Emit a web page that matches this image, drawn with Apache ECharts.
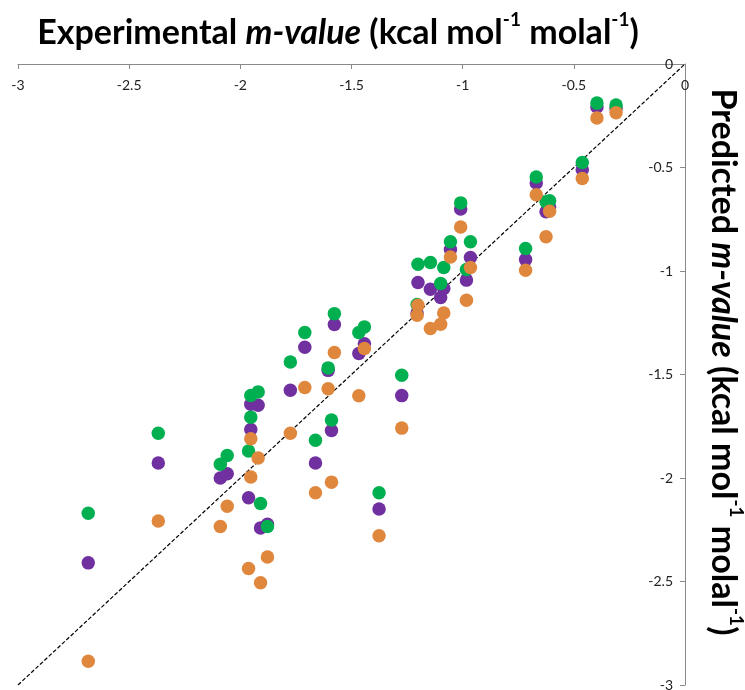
<!DOCTYPE html>
<html>
<head>
<meta charset="utf-8">
<script src="https://cdn.jsdelivr.net/npm/echarts@6/dist/echarts.min.js"></script>
<style>
html,body{margin:0;padding:0;background:#fff;}
#chart{width:745px;height:690px;}
</style>
</head>
<body>
<div id="chart"></div>
<script>
// Experimental m-values (x)
var experimental = [-2.684,-2.369,-2.090,-2.059,-1.963,-1.953,-1.953,-1.920,-1.909,-1.878,
  -1.775,-1.710,-1.662,-1.605,-1.590,-1.577,-1.467,-1.442,-1.376,-1.274,
  -1.205,-1.201,-1.145,-1.099,-1.085,-1.055,-1.009,-0.983,-0.965,-0.717,
  -0.669,-0.625,-0.609,-0.462,-0.396,-0.310];
// Predicted m-values, three models
var predictedPurple = [-2.410,-1.928,-2.000,-1.979,-2.095,-1.644,-1.766,-1.649,-2.241,-2.224,
  -1.576,-1.368,-1.928,-1.480,-1.771,-1.258,-1.399,-1.352,-2.150,-1.602,
  -1.203,-1.056,-1.088,-1.128,-1.085,-0.896,-0.700,-1.044,-0.935,-0.945,
  -0.575,-0.714,-0.691,-0.511,-0.208,-0.213];
var predictedGreen = [-2.170,-1.784,-1.934,-1.891,-1.870,-1.601,-1.706,-1.584,-2.123,-2.234,
  -1.440,-1.297,-1.818,-1.468,-1.720,-1.206,-1.297,-1.270,-2.071,-1.504,
  -1.162,-0.967,-0.959,-1.060,-0.983,-0.859,-0.671,-0.993,-0.859,-0.891,
  -0.546,-0.666,-0.661,-0.476,-0.189,-0.198];
var predictedOrange = [-2.885,-2.208,-2.234,-2.136,-2.437,-1.810,-1.995,-1.903,-2.506,-2.382,
  -1.784,-1.563,-2.071,-1.569,-2.020,-1.394,-1.603,-1.374,-2.279,-1.759,
  -1.214,-1.165,-1.278,-1.257,-1.203,-0.932,-0.787,-1.141,-0.983,-0.996,
  -0.632,-0.835,-0.711,-0.553,-0.261,-0.235];
var xTicks = [-3,-2.5,-2,-1.5,-1,-0.5,0];
var yTicks = [-3,-2.5,-2,-1.5,-1,-0.5,0];
var identityLine = [[-3,-3],[0,0]];

function pairs(ys){ return experimental.map(function(x,i){ return [x, ys[i]]; }); }

var chart = echarts.init(document.getElementById('chart'), null, {renderer:'canvas'});
var fam = 'Lato, "Open Sans", sans-serif';
var rich = {
  b:{fontFamily:fam,fontWeight:'bold',fontSize:34,color:'#000',lineHeight:40,verticalAlign:'bottom'},
  i:{fontFamily:fam,fontWeight:'bold',fontStyle:'italic',fontSize:34,color:'#000',lineHeight:40,verticalAlign:'bottom'},
  s:{fontFamily:fam,fontWeight:'bold',fontSize:19,color:'#000',lineHeight:40,verticalAlign:'top'}
};
var titleText = '{b|Experimental }{i|m-value}{b| (kcal mol}{s|-1}{b| molal}{s|-1}{b|)}';
var yTitleText = '{b|Predicted }{i|m-value}{b| (kcal mol}{s|-1}{b| molal}{s|-1}{b|)}';

chart.setOption({
  animation:false,
  backgroundColor:'#fff',
  grid:{left:18,right:60,top:64,bottom:5,containLabel:false,outerBoundsMode:'none'},
  xAxis:{
    type:'value',position:'top',min:xTicks[0],max:xTicks[xTicks.length-1],interval:0.5,
    axisLine:{show:true,onZero:false,lineStyle:{color:'#898989',width:1}},
    axisTick:{show:true,inside:true,length:5,lineStyle:{color:'#898989'}},
    axisLabel:{inside:true,margin:14,fontFamily:fam,fontSize:14,color:'#222'},
    splitLine:{show:false}
  },
  yAxis:{
    type:'value',position:'right',min:yTicks[0],max:yTicks[yTicks.length-1],interval:0.5,
    axisLine:{show:true,onZero:false,lineStyle:{color:'#898989',width:1}},
    axisTick:{show:true,inside:true,length:5,lineStyle:{color:'#898989'}},
    axisLabel:{inside:true,margin:12,fontFamily:fam,fontSize:14,color:'#222'},
    splitLine:{show:false}
  },
  graphic:[
    {type:'text',x:338,y:30,style:{text:titleText,rich:rich,align:'center',verticalAlign:'middle'}},
    {type:'text',x:726,y:362,rotation:-Math.PI/2,
     style:{text:yTitleText,rich:rich,align:'center',verticalAlign:'middle'}}
  ],
  series:[
    {type:'line',data:identityLine,symbol:'none',silent:true,z:1,
     lineStyle:{color:'#000',width:1.2,type:[4,2]}},
    {type:'scatter',data:pairs(predictedPurple),symbolSize:13.5,z:2,
     itemStyle:{color:'#7030A0',opacity:1}},
    {type:'scatter',data:pairs(predictedGreen),symbolSize:13.5,z:3,
     itemStyle:{color:'#00B050',opacity:1}},
    {type:'scatter',data:pairs(predictedOrange),symbolSize:13.5,z:4,
     itemStyle:{color:'#E0873E',opacity:1}}
  ]
});
</script>
</body>
</html>
